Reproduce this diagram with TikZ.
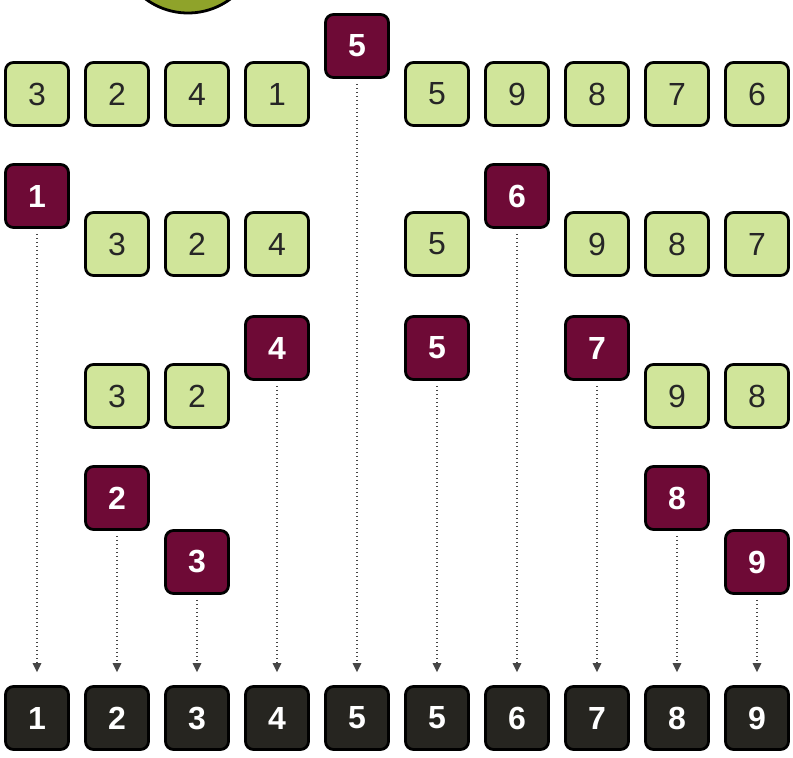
\documentclass[tikz,border=0pt]{standalone}
\usepackage{fontspec}
\setmainfont{Liberation Sans}
\usetikzlibrary{arrows.meta}
\definecolor{boxgreen}{RGB}{208,229,154}
\definecolor{boxmaroon}{RGB}{110,10,54}
\definecolor{boxblack}{RGB}{38,37,32}
\definecolor{pivotgreen}{RGB}{143,163,42}
\definecolor{arrowgray}{RGB}{70,70,70}
\tikzset{
  cell/.style={draw=black, line width=2.8pt, rounded corners=8pt, minimum size=63pt, inner sep=0pt, font=\fontsize{32}{32}\selectfont},
  gcell/.style={cell, fill=boxgreen, text=black!85},
  mcell/.style={cell, fill=boxmaroon, text=white, font=\fontsize{32}{32}\selectfont\bfseries},
  bcell/.style={cell, fill=boxblack, text=white, font=\fontsize{32}{32}\selectfont\bfseries},
  drop/.style={draw=arrowgray, line width=1.6pt, dash pattern=on 1.3pt off 2.7pt, shorten <=5pt, shorten >=13pt, -{Triangle[width=8.5pt,length=9pt]}},
}
\begin{document}
\begin{tikzpicture}[x=1pt,y=-1pt]
\clip (0,0) rectangle (793,758);
\useasboundingbox (0,0) rectangle (793,758);
% pivot circle
\node[circle, draw=black, line width=2.8pt, fill=pivotgreen, minimum size=142pt, inner sep=0pt] (pivot) at (188,-58) {};
% top row
\node[gcell] (t0) at (37,94) {3};
\node[gcell] (t1) at (117,94) {2};
\node[gcell] (t2) at (197,94) {4};
\node[gcell] (t3) at (277,94) {1};
\node[mcell] (m5a) at (357,46) {5};
\node[gcell] (t5) at (437,94) {5};
\node[gcell] (t6) at (517,94) {9};
\node[gcell] (t7) at (597,94) {8};
\node[gcell] (t8) at (677,94) {7};
\node[gcell] (t9) at (757,94) {6};
% row 2
\node[mcell] (m1) at (37,196) {1};
\node[gcell] (r2a) at (117,244) {3};
\node[gcell] (r2b) at (197,244) {2};
\node[gcell] (r2c) at (277,244) {4};
\node[gcell] (r2d) at (437,244) {5};
\node[mcell] (m6) at (517,196) {6};
\node[gcell] (r2e) at (597,244) {9};
\node[gcell] (r2f) at (677,244) {8};
\node[gcell] (r2g) at (757,244) {7};
% row 3
\node[gcell] (r3a) at (117,396) {3};
\node[gcell] (r3b) at (197,396) {2};
\node[mcell] (m4) at (277,348) {4};
\node[mcell] (m5b) at (437,348) {5};
\node[mcell] (m7) at (597,348) {7};
\node[gcell] (r3c) at (677,396) {9};
\node[gcell] (r3d) at (757,396) {8};
% row 4
\node[mcell] (m2) at (117,498) {2};
\node[mcell] (m3) at (197,562) {3};
\node[mcell] (m8) at (677,498) {8};
\node[mcell] (m9) at (757,562) {9};
% bottom
\node[bcell] (b1) at (37,718) {1};
\node[bcell] (b2) at (117,718) {2};
\node[bcell] (b3) at (197,718) {3};
\node[bcell] (b4) at (277,718) {4};
\node[bcell] (b5) at (357,718) {5};
\node[bcell] (b6) at (437,718) {5};
\node[bcell] (b7) at (517,718) {6};
\node[bcell] (b8) at (597,718) {7};
\node[bcell] (b9) at (677,718) {8};
\node[bcell] (b10) at (757,718) {9};
% drops
\draw[drop] (m1) -- (b1);
\draw[drop] (m2) -- (b2);
\draw[drop] (m3) -- (b3);
\draw[drop] (m4) -- (b4);
\draw[drop] (m5a) -- (b5);
\draw[drop] (m5b) -- (b6);
\draw[drop] (m6) -- (b7);
\draw[drop] (m7) -- (b8);
\draw[drop] (m8) -- (b9);
\draw[drop] (m9) -- (b10);
\end{tikzpicture}
\end{document}
